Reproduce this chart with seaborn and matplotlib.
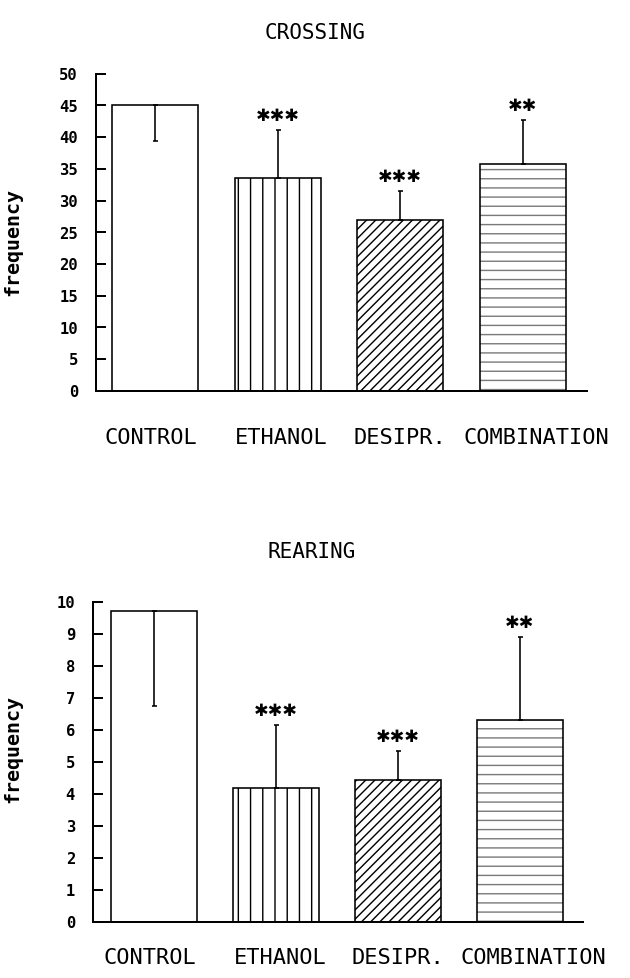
import matplotlib
matplotlib.use("Agg")
import matplotlib.pyplot as plt
from matplotlib.patches import Rectangle
import pandas as pd
import seaborn as sns

# ---- data -------------------------------------------------------------
groups = ["CONTROL", "ETHANOL", "DESIPR.", "COMBINATION"]

crossing_mean = [45.0, 33.6, 26.9, 35.8]
crossing_err = [5.6, 7.6, 4.6, 6.9]

rearing_mean = [9.7, 4.2, 4.45, 6.3]
rearing_err = [2.95, 1.95, 0.9, 2.6]

# control error bar is drawn downward inside its bar, the others upward
err_direction = [-1, 1, 1, 1]
stars = ["", "***", "***", "**"]

crossing_ticks = [0, 5, 10, 15, 20, 25, 30, 35, 40, 45, 50]
rearing_ticks = [0, 1, 2, 3, 4, 5, 6, 7, 8, 9, 10]

hatches = ["", "|||", "////////", "----"]

# ---- figure setup ------------------------------------------------------
DPI = 220
W, H = 630, 978


def pt(px):
    """pixels -> points at the figure dpi"""
    return px * 72.0 / DPI


sns.set_style("ticks")
plt.rcParams["font.family"] = ["DejaVu Sans Mono", "DejaVu Sans"]
plt.rcParams["hatch.linewidth"] = pt(1.4)
for key in ("text.color", "axes.labelcolor", "xtick.color", "ytick.color",
            "axes.edgecolor"):
    plt.rcParams[key] = "black"

fig = plt.figure(figsize=((W + 0.3) / DPI, (H + 0.3) / DPI), dpi=DPI)
fig.patch.set_facecolor("white")

MONO = "DejaVu Sans Mono"
# horizontal nudge of each category label, in pixels
label_shift = [-4, 4, 0, 14]


def panel(rect, title, title_xy, means, errs, ticks, xlim, label_drop, ylabel_y):
    ax = fig.add_axes(rect)
    df = pd.DataFrame({"group": groups, "value": means})
    sns.barplot(data=df, x="group", y="value", order=groups, ax=ax,
                color="white", saturation=1, width=0.70,
                edgecolor="black", linewidth=pt(1.6), errorbar=None)

    for patch, h in zip(ax.patches, hatches):
        patch.set_hatch(h)
        if h.startswith("-"):
            # grey horizontal rulings, outlined again in black
            patch.set_edgecolor("#7a7a7a")
            patch.set_linewidth(0)
            ax.add_patch(Rectangle((patch.get_x(), patch.get_y()),
                                   patch.get_width(), patch.get_height(),
                                   fill=False, edgecolor="black",
                                   linewidth=pt(1.6), zorder=patch.get_zorder() + 0.1))

    lower = [e if d < 0 else 0 for e, d in zip(errs, err_direction)]
    upper = [e if d > 0 else 0 for e, d in zip(errs, err_direction)]
    xs = list(range(len(groups)))
    ax.errorbar(xs, means, yerr=[lower, upper], fmt="none", ecolor="black",
                elinewidth=pt(1.6), capsize=pt(2.5), capthick=pt(1.6), zorder=5)

    for x, m, u, s in zip(xs, means, upper, stars):
        if s:
            ax.annotate("\u2731" * len(s), xy=(x, m + u), xytext=(0, pt(14)),
                        textcoords="offset points", ha="center", va="center",
                        fontsize=pt(17.5), family=["DejaVu Sans"])

    ax.set_xlim(*xlim)
    ax.set_ylim(ticks[0], ticks[-1])
    ax.set_yticks(ticks)
    ax.set_yticklabels([str(t) for t in ticks], family=MONO,
                       fontweight="bold", fontsize=pt(15.5))

    # category names under the bars
    ax.set_xticks(xs)
    ax.set_xticklabels([])
    for x, name, dx in zip(xs, groups, label_shift):
        ax.annotate(name, xy=(x, 0), xycoords=("data", "axes fraction"),
                    xytext=(pt(dx), -pt(label_drop)), textcoords="offset points",
                    ha="center", va="center", family=MONO, fontsize=pt(22),
                    annotation_clip=False)

    ax.set_xlabel("")
    ax.set_ylabel("frequency", family=MONO, fontweight="bold", fontsize=pt(20))
    ax.yaxis.set_label_coords((22 - rect[0] * W) / (rect[2] * W), ylabel_y)

    ax.tick_params(axis="y", direction="in", length=pt(10), width=pt(2),
                   pad=pt(18), colors="black")
    ax.tick_params(axis="x", length=0, colors="black")
    for side in ("top", "right"):
        ax.spines[side].set_visible(False)
    for side in ("left", "bottom"):
        ax.spines[side].set_linewidth(pt(2))
        ax.spines[side].set_color("black")
    ax.set_facecolor("white")

    fig.text(title_xy[0] / W, 1 - title_xy[1] / H, title, family=MONO,
             fontsize=pt(21), ha="center", va="center", color="black")
    return ax


panel([96 / W, 1 - 391 / H, 491 / W, 317 / H], "CROSSING", (315, 33),
      crossing_mean, crossing_err, crossing_ticks, (-0.482, 3.527), 47, 0.47)
panel([93 / W, 1 - 922 / H, 490 / W, 320 / H], "REARING", (312, 552),
      rearing_mean, rearing_err, rearing_ticks, (-0.50, 3.52), 36, 0.54)

fig.savefig("out.png", dpi=DPI, facecolor="white")
